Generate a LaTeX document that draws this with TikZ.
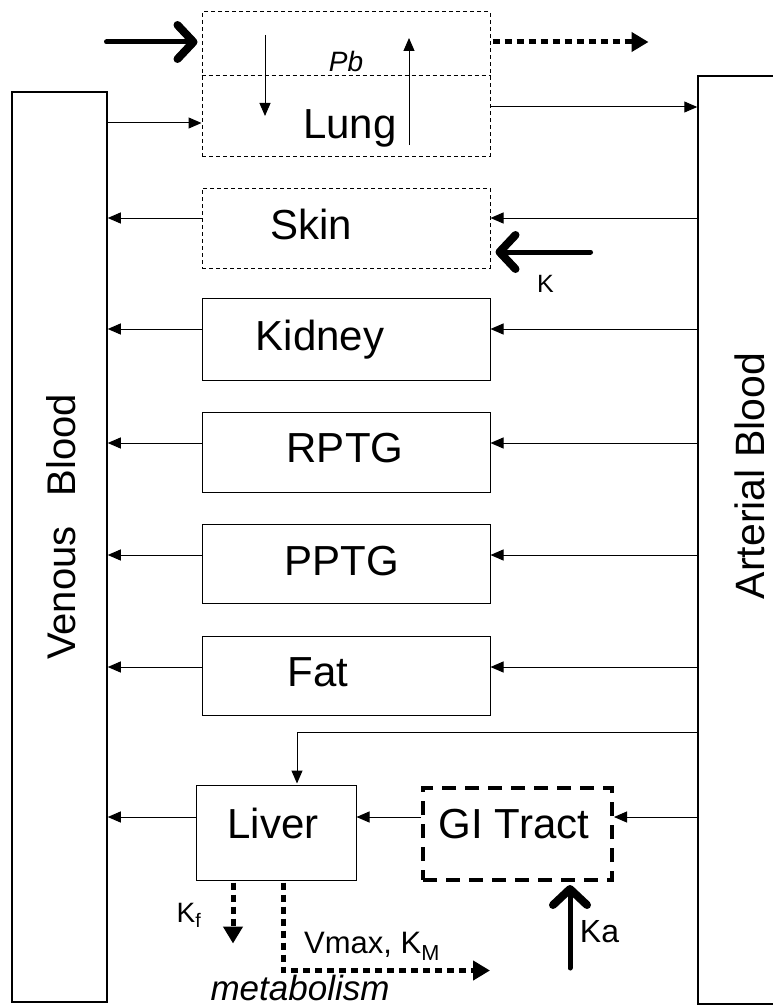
\documentclass[tikz,border=0pt]{standalone}
\usepackage{fontspec}
\setmainfont{Liberation Sans}
\usetikzlibrary{arrows.meta, positioning, calc}

\begin{document}
\begin{tikzpicture}[x=1pt, y=-1pt, line width=1pt,
  organ/.style={rectangle, draw, inner sep=0pt, minimum width=288pt, minimum height=80pt},
  dorgan/.style={organ, dash pattern=on 4pt off 3pt},
  otxt/.style={inner sep=0pt, anchor=base, font=\fontsize{42}{46}\selectfont},
  blood/.style={rectangle, draw, line width=1.5pt, inner sep=0pt},
  lbl/.style={inner sep=0pt, font=\fontsize{25}{28}\selectfont},
  a/.style={-{Triangle[length=13pt, width=11pt]}},
  big/.style={line width=5pt, line cap=round,
              -{Straight Barb[length=16pt, width=34pt, line width=8pt, round]}},
  dots/.style={line width=5pt, dash pattern=on 7pt off 5pt, -{Triangle[length=17pt, width=19pt]}}]
\useasboundingbox (0,0) rectangle (772,1006);

% blood pools
\node[blood, minimum width=95pt, minimum height=910pt] (ven) at (59.5,547) {};
\node[blood, minimum width=107pt, minimum height=928pt] (art) at (751.5,540) {};
\node[rotate=90, font=\fontsize{40}{44}\selectfont] (ventxt) at (61,527) {Venous\hspace{0.75em}Blood};
\node[rotate=90, font=\fontsize{41}{44}\selectfont] (arttxt) at (750,476) {Arterial Blood};

% lung
\node[dorgan, minimum height=144pt] (lung) at (346,84) {};
\node[otxt] (lungtxt) at (350,139) {Lung};
\node[lbl, font=\fontsize{28}{30}\itshape] (pb) at (346,61) {Pb};
\draw[dash pattern=on 4pt off 3pt] ($(lung.west)+(0,-8)$) -- ($(lung.east)+(0,-8)$);
\draw[a] ($(lung.center)+(-81,-49)$) -- ($(lung.center)+(-81,32)$);
\draw[a] ($(lung.center)+(63,61)$) -- ($(lung.center)+(63,-46)$);
\draw[big] ($(lung.west)+(-95,-42)$) -- ($(lung.west)+(-4,-42)$);
\draw[dots] ($(lung.east)+(2,-42)$) -- ($(lung.east)+(158,-42)$);
\draw[a] ($(lung.west -| ven.east)+(0,39)$) -- ($(lung.west)+(0,39)$);
\draw[a] ($(lung.east)+(0,23)$) -- ($(lung.east -| art.west)+(0,23)$);

% skin and the others
\node[dorgan] (skin) at (346,228) {};
\node[otxt] (skintxt) at (311,239) {Skin};
\node[organ, minimum height=82pt] (kidney) at (346,339) {};
\node[otxt] (kidneytxt) at (320,350) {Kidney};
\node[organ] (rptg) at (346,452) {};
\node[otxt] (rptgtxt) at (345,462) {RPTG};
\node[organ, minimum height=79pt] (pptg) at (346,563.5) {};
\node[otxt] (pptgtxt) at (342,575) {PPTG};
\node[organ, minimum height=79pt] (fat) at (346,675.5) {};
\node[otxt] (fattxt) at (318,686) {Fat};

\draw[a] ($(skin.west)+(0,-10)$) -- ($(skin.west -| ven.east)+(0,-10)$);
\draw[a] ($(skin.east -| art.west)+(0,-10)$) -- ($(skin.east)+(0,-10)$);
\draw[big] ($(skin.east)+(100,24)$) -- ($(skin.east)+(5,24)$);
\node[lbl] (ktxt) at ($(skin.east)+(55,56)$) {K};

\draw[a] ($(kidney.west)+(0,-10)$) -- ($(kidney.west -| ven.east)+(0,-10)$);
\draw[a] ($(kidney.east -| art.west)+(0,-10)$) -- ($(kidney.east)+(0,-10)$);
\draw[a] ($(rptg.west)+(0,-9)$) -- ($(rptg.west -| ven.east)+(0,-9)$);
\draw[a] ($(rptg.east -| art.west)+(0,-9)$) -- ($(rptg.east)+(0,-9)$);
\draw[a] ($(pptg.west)+(0,-8.5)$) -- ($(pptg.west -| ven.east)+(0,-8.5)$);
\draw[a] ($(pptg.east -| art.west)+(0,-8.5)$) -- ($(pptg.east)+(0,-8.5)$);
\draw[a] ($(fat.west)+(0,-8.5)$) -- ($(fat.west -| ven.east)+(0,-8.5)$);
\draw[a] ($(fat.east -| art.west)+(0,-8.5)$) -- ($(fat.east)+(0,-8.5)$);

% liver and gut
\node[organ, minimum width=160pt, minimum height=95pt] (liver) at (276,832.5) {};
\node[otxt] (livertxt) at (273,838) {Liver};
\node[organ, minimum width=189pt, minimum height=92pt, line width=4pt,
      dash pattern=on 14pt off 9pt] (gi) at (517.5,834) {};
\node[otxt] (gitxt) at (514,838) {GI Tract};

\coordinate (split) at ($(liver.north)+(21,-52)$);
\draw[a] (split -| art.west) -- (split) -- ($(liver.north)+(21,-1)$);
\draw[a] ($(liver.west)+(0,-15.5)$) -- ($(liver.west -| ven.east)+(0,-15.5)$);
\draw[a] ($(gi.west)+(0,-17)$) -- ($(liver.east)+(0,-15.5)$);
\draw[a] ($(gi.east -| art.west)+(0,-17)$) -- ($(gi.east)+(0,-17)$);
\draw[big] ($(gi.south)+(52.5,86)$) -- ($(gi.south)+(52.5,3)$);
\node[lbl, font=\fontsize{32}{34}\selectfont] (katxt) at ($(gi.south)+(82,50)$) {Ka};

% metabolism
\draw[dots] ($(liver.south)+(-43,2)$) -- ($(liver.south)+(-43,63)$);
\draw[dots] ($(liver.south)+(7,2)$) |- ($(liver.south)+(214,90)$);
\node[lbl, font=\fontsize{28}{30}\selectfont] (kftxt) at ($(liver.south)+(-87,35)$) {K\textsubscript{f}};
\node[lbl, font=\fontsize{31}{33}\selectfont] (vmtxt) at ($(liver.south)+(96,66)$) {Vmax,\ K\textsubscript{M}};
\node[inner sep=0pt, anchor=base, font=\fontsize{35}{38}\itshape] (mettxt) at (300,1000) {metabolism};
\end{tikzpicture}
\end{document}
